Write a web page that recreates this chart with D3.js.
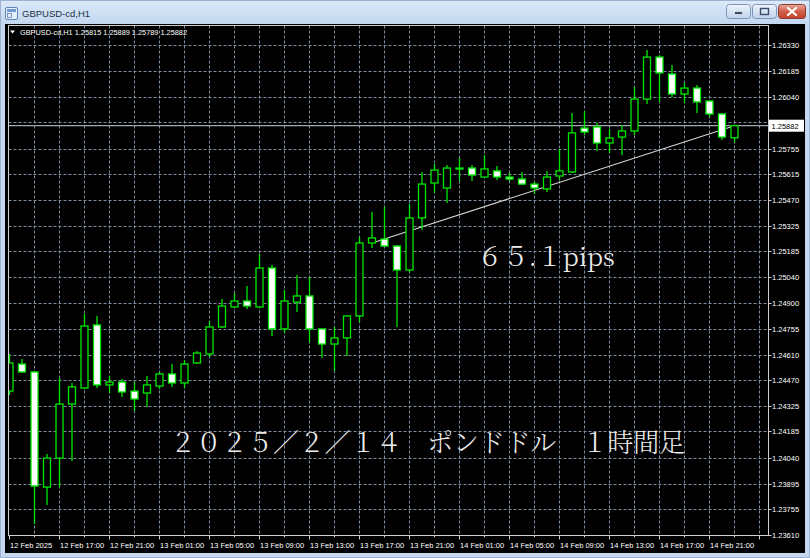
<!DOCTYPE html>
<html><head><meta charset="utf-8">
<script src="https://cdn.jsdelivr.net/npm/d3@7"></script>
<style>body{margin:0;background:#c5d8ef;overflow:hidden}svg{display:block}</style>
</head><body>
<svg id="c" width="810" height="558"></svg>
<script>
// ---------- data ----------
const symbol = "GBPUSD-cd,H1";
const open  = [1.24409,1.24559,1.24515,1.23876,1.24037,1.24337,1.24426,1.24776,1.24443,1.24459,
               1.24409,1.24398,1.24437,1.24504,1.24454,1.24565,1.24615,1.24765,1.24876,1.24909,
               1.24876,1.25092,1.24754,1.24903,1.24937,1.24754,1.24670,1.24704,1.24826,1.25231,
               1.25253,1.25214,1.25081,1.25370,1.25564,1.25536,1.25642,1.25647,1.25597,1.25631,
               1.25597,1.25586,1.25558,1.25531,1.25603,1.25625,1.25869,1.25875,1.25786,1.25819,
               1.25853,1.26030,1.26263,1.26169,1.26058,1.26091,1.26019,1.25947,1.25815];
const high  = [1.24615,1.24587,1.24520,1.24060,1.24482,1.24454,1.24837,1.24826,1.24493,1.24476,
               1.24459,1.24493,1.24515,1.24559,1.24581,1.24631,1.24798,1.24920,1.24953,1.24992,
               1.25170,1.25109,1.24970,1.25053,1.25042,1.24754,1.24765,1.24831,1.25264,1.25403,
               1.25431,1.25220,1.25447,1.25625,1.25669,1.25664,1.25703,1.25664,1.25719,1.25658,
               1.25620,1.25625,1.25570,1.25631,1.25753,1.25953,1.25964,1.25897,1.25864,1.25886,
               1.26097,1.26302,1.26274,1.26219,1.26119,1.26108,1.26025,1.25953,1.25889];
const low   = [1.24387,1.24509,1.23671,1.23777,1.23876,1.24021,1.24420,1.24426,1.24398,1.24376,
               1.24298,1.24321,1.24420,1.24432,1.24426,1.24559,1.24598,1.24759,1.24870,1.24865,
               1.24870,1.24715,1.24731,1.24848,1.24681,1.24593,1.24520,1.24604,1.24792,1.25203,
               1.25209,1.24765,1.25070,1.25303,1.25508,1.25453,1.25575,1.25575,1.25592,1.25581,
               1.25575,1.25553,1.25503,1.25514,1.25581,1.25620,1.25830,1.25742,1.25731,1.25719,
               1.25830,1.26002,1.26014,1.26041,1.26008,1.25953,1.25930,1.25803,1.25789];
const close = [1.24565,1.24515,1.23882,1.24037,1.24337,1.24432,1.24770,1.24443,1.24459,1.24404,
               1.24365,1.24443,1.24504,1.24454,1.24559,1.24620,1.24765,1.24881,1.24909,1.24881,
               1.25092,1.24754,1.24909,1.24937,1.24754,1.24670,1.24704,1.24826,1.25231,1.25259,
               1.25214,1.25081,1.25370,1.25558,1.25636,1.25647,1.25647,1.25608,1.25642,1.25597,
               1.25586,1.25558,1.25536,1.25597,1.25631,1.25842,1.25847,1.25786,1.25814,1.25853,
               1.26030,1.26263,1.26175,1.26058,1.26091,1.26014,1.25947,1.25819,1.25882];
const yTickLabels = ["1.23610","1.23755","1.23895","1.24040","1.24185","1.24325","1.24470","1.24610",
                     "1.24755","1.24900","1.25040","1.25185","1.25325","1.25470","1.25615","1.25755",
                     "1.25900","1.26040","1.26185","1.26330"];
const xTickLabels = ["12 Feb 2025","12 Feb 17:00","12 Feb 21:00","13 Feb 01:00","13 Feb 05:00",
                     "13 Feb 09:00","13 Feb 13:00","13 Feb 17:00","13 Feb 21:00","14 Feb 01:00",
                     "14 Feb 05:00","14 Feb 09:00","14 Feb 13:00","14 Feb 17:00","14 Feb 21:00"];
const trendBars   = [29, 58];
const trendPrices = [1.25231, 1.25882];
const pipsText  = "６５.１pips";
const titleText = "２０２５／２／１４　ポンドドル　１時間足";
const lastPrice = 1.25882;

// ---------- layout ----------
const W = 810, H = 558;
const plot = {l: 8.5, r: 768.5, t: 25.5, b: 535.5};
const svg = d3.select("#c");
const n = open.length;
const x = d3.scaleLinear().domain([0, 60]).range([9.5, 759.5]);
const y = d3.scaleLinear().domain([1.23610, 1.26330]).range([535, 45]);
const GREEN = "#00e800", GRID = "#7d8ea0";

// ---------- window chrome ----------
const defs = svg.append("defs");
const g1 = defs.append("linearGradient").attr("id","tb").attr("x1",0).attr("y1",0).attr("x2",0).attr("y2",1);
g1.append("stop").attr("offset",0).attr("stop-color","#dce9f8");
g1.append("stop").attr("offset",1).attr("stop-color","#c3d7ef");
const g2 = defs.append("linearGradient").attr("id","btn").attr("x1",0).attr("y1",0).attr("x2",0).attr("y2",1);
g2.append("stop").attr("offset",0).attr("stop-color","#eef4fb");
g2.append("stop").attr("offset",1).attr("stop-color","#bfd2ea");
const g3 = defs.append("linearGradient").attr("id","cls").attr("x1",0).attr("y1",0).attr("x2",0).attr("y2",1);
g3.append("stop").attr("offset",0).attr("stop-color","#e9a99c");
g3.append("stop").attr("offset",0.5).attr("stop-color","#d25e4a");
g3.append("stop").attr("offset",1).attr("stop-color","#c0412d");

svg.append("rect").attr("width",W).attr("height",H).attr("fill","#c5d8ef");
svg.append("rect").attr("width",W).attr("height",24).attr("fill","url(#tb)");
svg.append("rect").attr("x",0.5).attr("y",0.5).attr("width",W-1).attr("height",H-1)
  .attr("fill","none").attr("stroke","#9bb3d0");
// icon
svg.append("rect").attr("x",5.5).attr("y",7.5).attr("width",12).attr("height",12).attr("rx",1.5)
  .attr("fill","#e6eef9").attr("stroke","#5f86b8");
svg.append("rect").attr("x",7).attr("y",9).attr("width",9).attr("height",3).attr("fill","#6f9ad4");
svg.append("rect").attr("x",7.5).attr("y",13.5).attr("width",4).attr("height",4).attr("fill","none").attr("stroke","#5f86b8").attr("stroke-width",0.8);
svg.append("text").attr("x",22).attr("y",17).attr("font-family","Liberation Sans, Arial, sans-serif")
  .attr("font-size",9.5).attr("fill","#1b2f4a").text(symbol);
// buttons
svg.append("rect").attr("x",726.5).attr("y",4.5).attr("width",24).attr("height",14).attr("rx",3)
  .attr("fill","url(#btn)").attr("stroke","#7b95b8");
svg.append("rect").attr("x",734.5).attr("y",11.5).attr("width",8).attr("height",3)
  .attr("fill","#3a4e6a").attr("stroke","#ffffff").attr("stroke-width",0.6);
svg.append("rect").attr("x",752.5).attr("y",4.5).attr("width",24).attr("height",14).attr("rx",3)
  .attr("fill","url(#btn)").attr("stroke","#7b95b8");
svg.append("rect").attr("x",760.5).attr("y",8.5).attr("width",8).attr("height",6)
  .attr("fill","none").attr("stroke","#3a4e6a").attr("stroke-width",1.4);
svg.append("rect").attr("x",778.5).attr("y",4.5).attr("width",27).attr("height",14).attr("rx",3)
  .attr("fill","url(#cls)").attr("stroke","#8d3a2e");
svg.append("path").attr("d","M788,8 L796,15 M796,8 L788,15").attr("stroke","#ffffff").attr("stroke-width",2.2)
  .attr("stroke-linecap","round");

// chart client area
svg.append("rect").attr("x",5).attr("y",24).attr("width",800).attr("height",529).attr("fill","#000");

// ---------- grid ----------
const grid = svg.append("g");
yTickLabels.forEach(t => {
  const yy = Math.round(y(+t)) + 0.5;
  grid.append("line").attr("x1",plot.l).attr("x2",plot.r).attr("y1",yy).attr("y2",yy)
    .attr("stroke",GRID).attr("stroke-dasharray","3,2");
});
d3.range(2, 61, 2).forEach(k => {
  const xx = Math.round(x(k) - 0.5) + 0.5;
  grid.append("line").attr("x1",xx).attr("x2",xx).attr("y1",plot.t).attr("y2",plot.b)
    .attr("stroke",GRID).attr("stroke-dasharray","3,2");
});

// bid line
svg.append("line").attr("x1",plot.l).attr("x2",plot.r).attr("y1",y(lastPrice)).attr("y2",y(lastPrice))
  .attr("stroke","#a0a9b3").attr("stroke-width",1.2);

// trend line
svg.append("line")
  .attr("x1",x(trendBars[0])).attr("y1",y(trendPrices[0]))
  .attr("x2",x(trendBars[1])).attr("y2",y(trendPrices[1]))
  .attr("stroke","#d9d9d9").attr("stroke-width",1.1);

// ---------- candles ----------
const cg = svg.append("g").attr("clip-path","url(#pc)");
defs.append("clipPath").attr("id","pc").append("rect")
  .attr("x",plot.l+0.5).attr("y",plot.t).attr("width",plot.r-plot.l).attr("height",plot.b-plot.t);
const idx = d3.range(n);
cg.selectAll("line.w").data(idx).join("line").attr("class","w")
  .attr("x1",i=>x(i)).attr("x2",i=>x(i)).attr("y1",i=>y(high[i])).attr("y2",i=>y(low[i]))
  .attr("stroke",GREEN).attr("stroke-width",1.3);
cg.selectAll("rect.b").data(idx).join("rect").attr("class","b")
  .attr("x",i=>x(i)-3.5).attr("width",7)
  .attr("y",i=>y(Math.max(open[i],close[i])))
  .attr("height",i=>Math.max(1,Math.abs(y(open[i])-y(close[i]))))
  .attr("fill",i=>close[i] >= open[i] ? "#000" : "#ffffff")
  .attr("stroke",GREEN).attr("stroke-width",1.3);

// ---------- frame & axes ----------
svg.append("rect").attr("x",plot.l).attr("y",plot.t).attr("width",plot.r-plot.l).attr("height",plot.b-plot.t)
  .attr("fill","none").attr("stroke","#cfcfcf");
const ax = svg.append("g").attr("font-family","Liberation Sans, Arial, sans-serif").attr("font-size",7.5).attr("fill","#fff");
yTickLabels.forEach(t => {
  const yy = Math.round(y(+t)) + 0.5;
  ax.append("line").attr("x1",plot.r).attr("x2",plot.r+3).attr("y1",yy).attr("y2",yy).attr("stroke","#cfcfcf");
  // label hidden behind the current-price box in the terminal
  if (Math.abs(yy - y(lastPrice)) > 10) ax.append("text").attr("x",772).attr("y",yy+2.8).text(t);
});
d3.range(0, 61, 2).forEach(k => {
  const xx = Math.round(x(k) - 0.5) + 0.5;
  ax.append("line").attr("x1",xx).attr("x2",xx).attr("y1",plot.b).attr("y2",plot.b + (k%4===0?4:2))
    .attr("stroke","#cfcfcf");
});
xTickLabels.forEach((t,j) => {
  ax.append("text").attr("x",x(j*4)+0.5).attr("y",547.5).text(t);
});
// price box
svg.append("rect").attr("x",769).attr("y",y(lastPrice)-6).attr("width",35).attr("height",12).attr("fill","#fff");
svg.append("text").attr("x",771.5).attr("y",y(lastPrice)+2.8).attr("font-family","Liberation Sans, Arial, sans-serif")
  .attr("font-size",7.5).attr("fill","#000").text(d3.format(".5f")(lastPrice));

// info line
svg.append("path").attr("d","M10,30.5 L15,30.5 L12.5,33.5 Z").attr("fill","#fff");
svg.append("text").attr("x",20).attr("y",35).attr("font-family","Liberation Sans, Arial, sans-serif")
  .attr("font-size",7.5).attr("fill","#fff").attr("textLength",167).attr("lengthAdjust","spacingAndGlyphs")
  .text(symbol + "  " + [open[n-1],high[n-1],low[n-1],close[n-1]].map(d3.format(".5f")).join(" "));

// annotations
const fam = "'Noto Serif CJK JP','Liberation Serif','Noto Sans CJK JP',serif";
svg.append("text").attr("x",477).attr("y",266).attr("font-family",fam).attr("font-size",26)
  .attr("font-weight",300).attr("fill","#ececec").attr("textLength",138).attr("lengthAdjust","spacing")
  .text(pipsText);
svg.append("text").attr("x",170).attr("y",452).attr("font-family",fam).attr("font-size",26)
  .attr("font-weight",300).attr("fill","#ececec").attr("textLength",515).attr("lengthAdjust","spacing")
  .text(titleText);
</script>
</body></html>
